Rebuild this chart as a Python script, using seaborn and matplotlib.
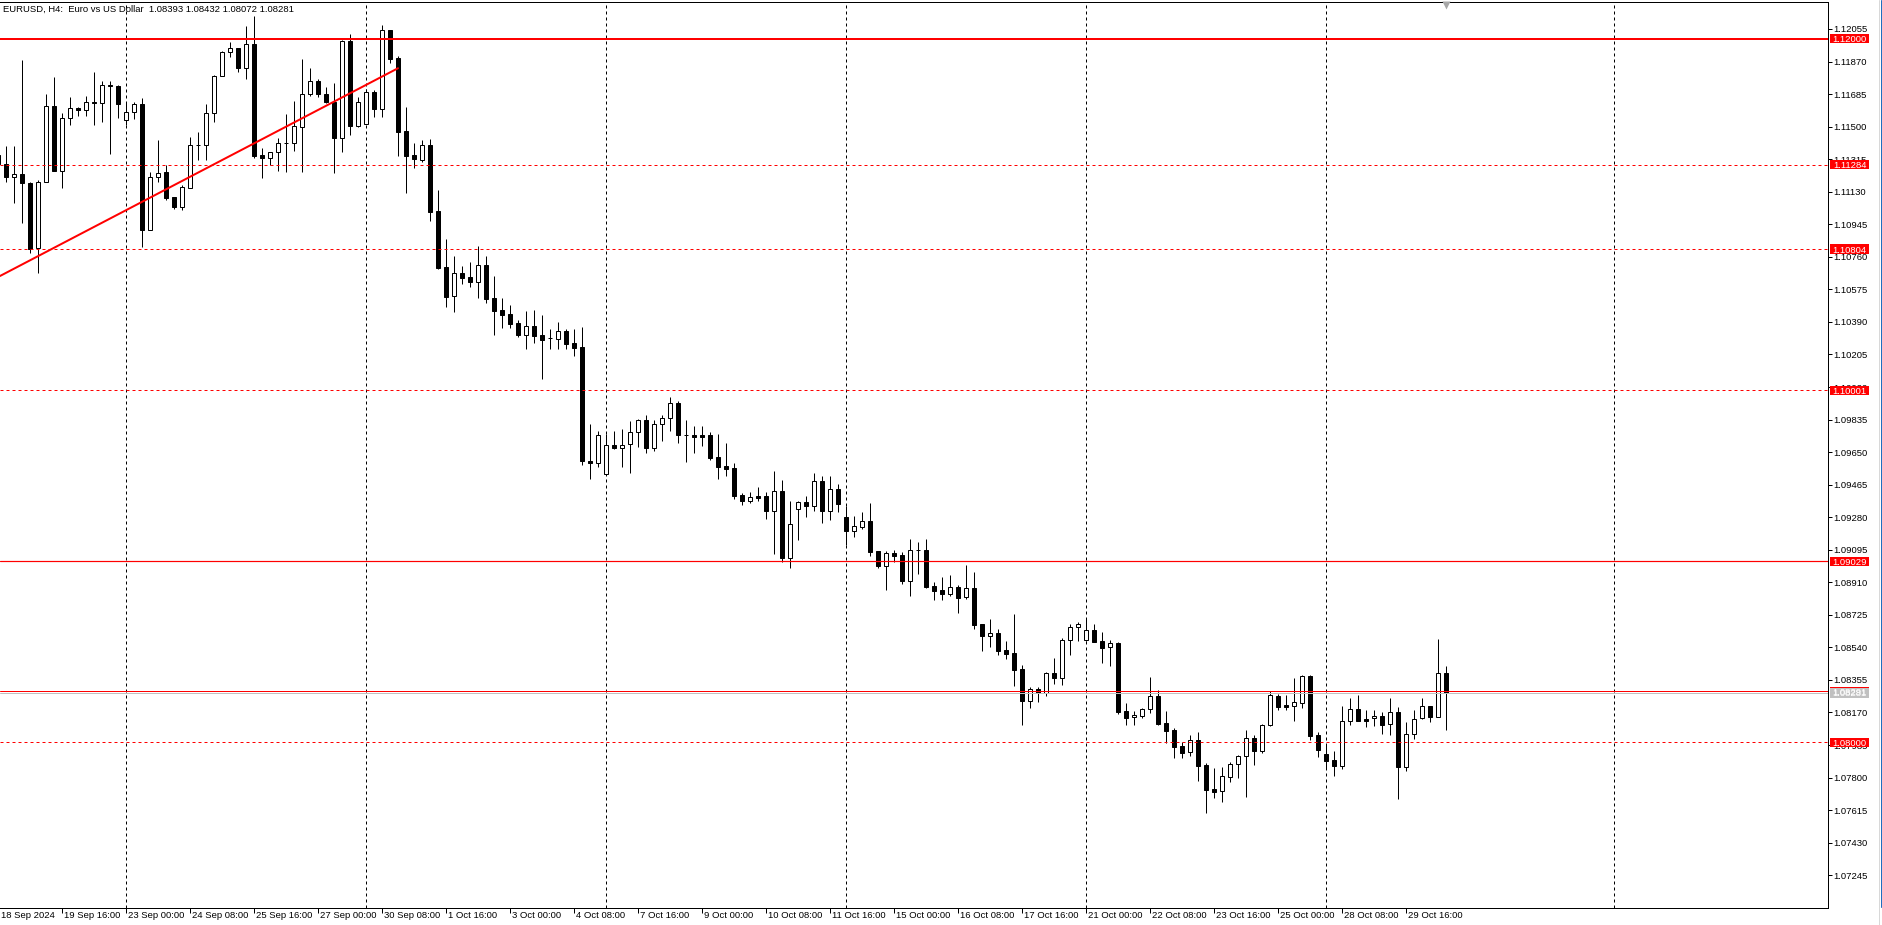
import numpy as np
import pandas as pd
import matplotlib
matplotlib.use("Agg")
import matplotlib.pyplot as plt
import matplotlib.transforms as mtransforms
from matplotlib.patches import Rectangle
import seaborn as sns

sns.set_theme(style="white")
plt.rcParams['font.family'] = ['Liberation Sans', 'DejaVu Sans']

# EURUSD H4 bars, 18 Sep 08:00 .. 30 Oct 12:00 (bar index -1 .. 180)
FIRST_BAR = -1
OPEN = [1.11340,
        1.11286, 1.11212, 1.11231, 1.11180, 1.10808, 1.11187, 1.11617, 1.11250, 1.11547, 1.11606,
        1.11593, 1.11640, 1.11632, 1.11735, 1.11731, 1.11536, 1.11581, 1.11627, 1.10914, 1.11212,
        1.11240, 1.11098, 1.11045, 1.11153, 1.11396, 1.11398, 1.11576, 1.11786, 1.11922, 1.11947,
        1.11835, 1.11968, 1.11339, 1.11320, 1.11354, 1.11405, 1.11405, 1.11500, 1.11684, 1.11761,
        1.11686, 1.11638, 1.11434, 1.11985, 1.11506, 1.11513, 1.11695, 1.11602, 1.12047, 1.11888,
        1.11473, 1.11339, 1.11312, 1.11396, 1.11020, 1.10702, 1.10535, 1.10666, 1.10645, 1.10619,
        1.10712, 1.10526, 1.10458, 1.10435, 1.10384, 1.10318, 1.10367, 1.10316, 1.10297, 1.10295,
        1.10338, 1.10270, 1.10246, 1.09598, 1.09586, 1.09524, 1.09689, 1.09675, 1.09694, 1.09762,
        1.09831, 1.09675, 1.09808, 1.09842, 1.09927, 1.09745, 1.09747, 1.09747, 1.09747, 1.09622,
        1.09571, 1.09560, 1.09406, 1.09374, 1.09400, 1.09400, 1.09317, 1.09427, 1.09050, 1.09328,
        1.09366, 1.09346, 1.09484, 1.09317, 1.09438, 1.09281, 1.09203, 1.09226, 1.09258, 1.09088,
        1.09004, 1.09076, 1.09065, 1.08919, 1.09094, 1.09094, 1.08889, 1.08866, 1.08842, 1.08881,
        1.08825, 1.08876, 1.08671, 1.08607, 1.08620, 1.08525, 1.08508, 1.08417, 1.08237, 1.08302,
        1.08279, 1.08394, 1.08368, 1.08580, 1.08654, 1.08584, 1.08637, 1.08575, 1.08540, 1.08565,
        1.08179, 1.08144, 1.08148, 1.08192, 1.08262, 1.08108, 1.08069, 1.07980, 1.07944, 1.08012,
        1.07872, 1.07733, 1.07722, 1.07801, 1.07875, 1.07921, 1.08023, 1.07953, 1.08097, 1.08262,
        1.08211, 1.08209, 1.08226, 1.08376, 1.08040, 1.07932, 1.07898, 1.07868, 1.08120, 1.08192,
        1.08131, 1.08137, 1.08148, 1.08103, 1.08171, 1.07862, 1.08046, 1.08139, 1.08205, 1.08146,
        1.08393]
HIGH = [1.11400,
        1.11390, 1.11390, 1.11879, 1.11185, 1.11197, 1.11686, 1.11780, 1.11576, 1.11667, 1.11614,
        1.11674, 1.11812, 1.11759, 1.11761, 1.11735, 1.11636, 1.11640, 1.11661, 1.11244, 1.11424,
        1.11282, 1.11102, 1.11168, 1.11443, 1.11470, 1.11629, 1.11793, 1.11932, 1.11981, 1.11949,
        1.12072, 1.12129, 1.11377, 1.11358, 1.11434, 1.11570, 1.11646, 1.11883, 1.11831, 1.11771,
        1.11723, 1.11746, 1.11992, 1.12025, 1.11670, 1.11712, 1.11708, 1.12080, 1.12049, 1.11901,
        1.11610, 1.11409, 1.11424, 1.11430, 1.11140, 1.10861, 1.10765, 1.10708, 1.10729, 1.10822,
        1.10765, 1.10651, 1.10526, 1.10486, 1.10401, 1.10452, 1.10458, 1.10429, 1.10350, 1.10390,
        1.10350, 1.10350, 1.10359, 1.09808, 1.09770, 1.09751, 1.09770, 1.09781, 1.09827, 1.09840,
        1.09861, 1.09831, 1.09861, 1.09961, 1.09942, 1.09832, 1.09798, 1.09798, 1.09764, 1.09753,
        1.09702, 1.09588, 1.09419, 1.09423, 1.09452, 1.09423, 1.09543, 1.09492, 1.09372, 1.09372,
        1.09400, 1.09531, 1.09512, 1.09514, 1.09469, 1.09344, 1.09287, 1.09309, 1.09361, 1.09088,
        1.09090, 1.09094, 1.09082, 1.09158, 1.09139, 1.09158, 1.08912, 1.08942, 1.08952, 1.08895,
        1.09008, 1.08969, 1.08671, 1.08700, 1.08645, 1.08575, 1.08730, 1.08438, 1.08317, 1.08317,
        1.08400, 1.08482, 1.08593, 1.08671, 1.08682, 1.08707, 1.08673, 1.08626, 1.08582, 1.08571,
        1.08224, 1.08177, 1.08197, 1.08372, 1.08298, 1.08179, 1.08080, 1.08004, 1.08040, 1.08057,
        1.07883, 1.07855, 1.07862, 1.07889, 1.07927, 1.08071, 1.08042, 1.08103, 1.08290, 1.08273,
        1.08268, 1.08366, 1.08383, 1.08381, 1.08057, 1.07989, 1.07951, 1.08205, 1.08250, 1.08269,
        1.08184, 1.08184, 1.08171, 1.08250, 1.08199, 1.08116, 1.08184, 1.08250, 1.08205, 1.08588,
        1.08432]
LOW = [1.11150,
       1.11187, 1.11068, 1.10954, 1.10780, 1.10670, 1.11187, 1.11250, 1.11153, 1.11509, 1.11560,
       1.11560, 1.11509, 1.11528, 1.11344, 1.11547, 1.11509, 1.11542, 1.10818, 1.10913, 1.11187,
       1.11083, 1.11032, 1.11026, 1.11153, 1.11310, 1.11310, 1.11528, 1.11786, 1.11894, 1.11812,
       1.11769, 1.11320, 1.11206, 1.11282, 1.11248, 1.11244, 1.11363, 1.11244, 1.11674, 1.11670,
       1.11636, 1.11235, 1.11358, 1.11451, 1.11496, 1.11513, 1.11553, 1.11553, 1.11860, 1.11335,
       1.11125, 1.11263, 1.11301, 1.10966, 1.10689, 1.10473, 1.10448, 1.10607, 1.10590, 1.10528,
       1.10499, 1.10316, 1.10355, 1.10355, 1.10306, 1.10236, 1.10272, 1.10067, 1.10236, 1.10236,
       1.10236, 1.10196, 1.09577, 1.09499, 1.09567, 1.09524, 1.09670, 1.09567, 1.09533, 1.09681,
       1.09647, 1.09658, 1.09715, 1.09772, 1.09704, 1.09596, 1.09645, 1.09685, 1.09607, 1.09499,
       1.09516, 1.09385, 1.09351, 1.09363, 1.09374, 1.09272, 1.09071, 1.09027, 1.08989, 1.09152,
       1.09283, 1.09313, 1.09249, 1.09264, 1.09309, 1.09124, 1.09169, 1.09211, 1.09060, 1.08993,
       1.08866, 1.09027, 1.08900, 1.08834, 1.08957, 1.08876, 1.08809, 1.08809, 1.08832, 1.08737,
       1.08813, 1.08646, 1.08521, 1.08544, 1.08499, 1.08476, 1.08323, 1.08101, 1.08197, 1.08232,
       1.08266, 1.08332, 1.08328, 1.08497, 1.08576, 1.08578, 1.08573, 1.08453, 1.08436, 1.08160,
       1.08099, 1.08099, 1.08139, 1.08169, 1.08101, 1.07999, 1.07913, 1.07913, 1.07925, 1.07783,
       1.07601, 1.07686, 1.07663, 1.07777, 1.07799, 1.07692, 1.07873, 1.07942, 1.08095, 1.08186,
       1.08186, 1.08124, 1.08197, 1.08016, 1.07919, 1.07855, 1.07811, 1.07851, 1.08101, 1.08124,
       1.08089, 1.08093, 1.08050, 1.08042, 1.07676, 1.07839, 1.08019, 1.08135, 1.08116, 1.08146,
       1.08072]
CLOSE = [1.11286,
         1.11212, 1.11231, 1.11178, 1.10804, 1.11187, 1.11617, 1.11250, 1.11549, 1.11604, 1.11593,
         1.11638, 1.11632, 1.11735, 1.11731, 1.11631, 1.11581, 1.11627, 1.10914, 1.11212, 1.11238,
         1.11096, 1.11045, 1.11155, 1.11394, 1.11396, 1.11576, 1.11786, 1.11924, 1.11945, 1.11835,
         1.11968, 1.11335, 1.11320, 1.11354, 1.11405, 1.11405, 1.11502, 1.11684, 1.11758, 1.11684,
         1.11638, 1.11434, 1.11985, 1.11506, 1.11638, 1.11695, 1.11602, 1.12047, 1.11886, 1.11471,
         1.11335, 1.11314, 1.11396, 1.11017, 1.10698, 1.10534, 1.10666, 1.10642, 1.10619, 1.10712,
         1.10522, 1.10454, 1.10431, 1.10380, 1.10316, 1.10367, 1.10312, 1.10289, 1.10297, 1.10338,
         1.10264, 1.10244, 1.09601, 1.09586, 1.09749, 1.09689, 1.09675, 1.09689, 1.09762, 1.09831,
         1.09675, 1.09808, 1.09842, 1.09927, 1.09749, 1.09745, 1.09738, 1.09738, 1.09618, 1.09567,
         1.09556, 1.09402, 1.09374, 1.09393, 1.09389, 1.09317, 1.09427, 1.09050, 1.09240, 1.09366,
         1.09346, 1.09484, 1.09317, 1.09438, 1.09357, 1.09203, 1.09228, 1.09258, 1.09084, 1.09004,
         1.09075, 1.09061, 1.08919, 1.09094, 1.09094, 1.08881, 1.08862, 1.08842, 1.08881, 1.08823,
         1.08876, 1.08669, 1.08607, 1.08622, 1.08521, 1.08504, 1.08413, 1.08237, 1.08302, 1.08279,
         1.08394, 1.08368, 1.08580, 1.08656, 1.08671, 1.08637, 1.08573, 1.08538, 1.08563, 1.08175,
         1.08141, 1.08154, 1.08192, 1.08262, 1.08107, 1.08067, 1.07976, 1.07942, 1.08012, 1.07868,
         1.07731, 1.07720, 1.07807, 1.07875, 1.07921, 1.08023, 1.07953, 1.08097, 1.08268, 1.08203,
         1.08201, 1.08228, 1.08376, 1.08038, 1.07959, 1.07896, 1.07868, 1.08120, 1.08192, 1.08124,
         1.08124, 1.08148, 1.08101, 1.08171, 1.07862, 1.08046, 1.08135, 1.08205, 1.08146, 1.08393,
         1.08281]

TITLE = "EURUSD, H4:  Euro vs US Dollar  1.08393 1.08432 1.08072 1.08281"

# price scale labels on the right
TICK_PRICES = [1.12055, 1.11870, 1.11685, 1.11500, 1.11315, 1.11130, 1.10945, 1.10760,
               1.10575, 1.10390, 1.10205, 1.10020, 1.09835, 1.09650, 1.09465, 1.09280,
               1.09095, 1.08910, 1.08725, 1.08540, 1.08355, 1.08170, 1.07985, 1.07800,
               1.07615, 1.07430, 1.07245]

# time scale labels (bar index of each label)
DATE_BARS = [7, 15, 23, 31, 39, 47, 55, 63, 71, 79, 87, 95, 103, 111, 119, 127,
             135, 143, 151, 159, 167, 175]
DATE_LABELS = ["19 Sep 16:00", "23 Sep 00:00", "24 Sep 08:00", "25 Sep 16:00",
               "27 Sep 00:00", "30 Sep 08:00", "1 Oct 16:00", "3 Oct 00:00",
               "4 Oct 08:00", "7 Oct 16:00", "9 Oct 00:00", "10 Oct 08:00",
               "11 Oct 16:00", "15 Oct 00:00", "16 Oct 08:00", "17 Oct 16:00",
               "21 Oct 00:00", "22 Oct 08:00", "23 Oct 16:00", "25 Oct 00:00",
               "28 Oct 08:00", "29 Oct 16:00"]
FIRST_LABEL = "18 Sep 2024"
GRID_BARS = [15, 45, 75, 105, 135, 165, 201]

# horizontal levels
THICK_LEVELS = [1.12000]
DASHED_LEVELS = [1.11284, 1.10804, 1.10001, 1.08000]
THIN_LEVELS = [1.09029]
BID = 1.08281
ASK = 1.08291

# trend line (bar index, price)
TREND_BARS = [-0.75, 49.0]
TREND_PRICES = [1.10651, 1.11832]

# --- layout in pixels ---
W, H = 1883, 925
AX_W, AX_H = 1828, 906
PX = 1 / AX_W
XMIN, XMAX = -0.75, 227.75
YMIN, YMAX = 1.070587, 1.122084
YPX = (YMAX - YMIN) / AX_H
LW = 0.72  # one pixel in points
FS = 6.8

df = pd.DataFrame({"bar": np.arange(FIRST_BAR, FIRST_BAR + len(OPEN)),
                   "open": OPEN, "high": HIGH, "low": LOW, "close": CLOSE})
df["bottom"] = df[["open", "close"]].min(axis=1)
df["height"] = (df["close"] - df["open"]).abs()
df["fill"] = np.where(df["close"] > df["open"], "white", "black")

fig = plt.figure(figsize=(W / 100, H / 100), dpi=100, facecolor="white")
ax = fig.add_axes([0, 17 / H, AX_W / W, AX_H / H])
ax.set_facecolor("white")
ax.set_xlim(XMIN, XMAX)
ax.set_ylim(YMIN, YMAX)

# grid
for b in GRID_BARS:
    ax.axvline(b, color="black", lw=LW, ls=(0, (3, 3)), zorder=1)

# candles
ax.vlines(df["bar"], df["low"], df["high"], color="black", lw=LW, zorder=2)
ax.bar(df["bar"], df["height"], bottom=df["bottom"], width=0.5,
       color=df["fill"], edgecolor="black", linewidth=LW, zorder=3)

# objects
for p in THICK_LEVELS:
    ax.axhline(p, color="#FF0000", lw=2 * LW, zorder=4)
for p in DASHED_LEVELS:
    ax.axhline(p, color="#FF0000", lw=LW, ls=(0, (3, 3)), zorder=4)
for p in THIN_LEVELS:
    ax.axhline(p, color="#FF0000", lw=LW * 1.2, zorder=4)
ax.axhline(BID, color="#C0C0C0", lw=LW, zorder=4)
ax.axhline(ASK, color="#FF0000", lw=LW, zorder=4)
sns.lineplot(x=TREND_BARS, y=TREND_PRICES, ax=ax, color="#FF0000", lw=2 * LW, zorder=4)

# axes frame
for side in ["top", "right", "bottom"]:
    ax.spines[side].set_visible(True)
    ax.spines[side].set_color("black")
    ax.spines[side].set_linewidth(LW)
ax.spines["left"].set_visible(False)

ax.yaxis.tick_right()
ax.set_yticks(TICK_PRICES)
ax.set_yticklabels([f"{v:.5f}" for v in TICK_PRICES])
ax.tick_params(axis="y", which="both", right=True, left=False, direction="out",
               length=4 * LW, width=LW, pad=LW, labelsize=FS, colors="black")
ax.set_xticks(DATE_BARS)
ax.set_xticklabels([])
ax.tick_params(axis="x", bottom=True, direction="out", length=5 * LW, width=LW,
               colors="black")

tx = mtransforms.blended_transform_factory(ax.transData, ax.transAxes)
ty = mtransforms.blended_transform_factory(ax.transAxes, ax.transData)
ax.text(XMIN + 0.1, -3 / AX_H, FIRST_LABEL, transform=tx, ha="left", va="top",
        fontsize=FS, color="black", clip_on=False)
for b, lab in zip(DATE_BARS, DATE_LABELS):
    ax.text(b + 0.3, -3 / AX_H, lab, transform=tx, ha="left", va="top",
            fontsize=FS, color="black", clip_on=False)

# price labels of levels
def level_label(price, fc):
    ax.add_patch(Rectangle((1830 * PX, price - 4.65 * YPX), 39.5 * PX, 9.3 * YPX,
                           transform=ty, fc=fc, ec="none", clip_on=False, zorder=6))
    ax.text(1849.8 * PX, price, f"{price:.5f}", transform=ty, ha="center",
            va="center_baseline", fontsize=FS, color="white", clip_on=False, zorder=7)

for p in THICK_LEVELS + DASHED_LEVELS + THIN_LEVELS:
    level_label(p, "#FF0000")
level_label(ASK, "#FF0000")
level_label(BID, "#C0C0C0")

# title and shift marker
ax.text(3 * PX, 1 - 7.7 / AX_H, TITLE, transform=ax.transAxes, ha="left",
        va="center", fontsize=FS, color="black")
ax.plot([df["bar"].iloc[-1]], [1 - 3 / AX_H], marker="v", ms=6, color="#A8A8A8",
        mec="none", transform=tx, clip_on=False, zorder=8)

# window edge
fig.add_artist(plt.Line2D([1879.5 / W, 1879.5 / W], [0, 1], color="#D8D8D8", lw=LW))
fig.add_artist(plt.Line2D([1881.5 / W, 1881.5 / W], [0.02, 1], color="#1F6FC0", lw=LW))

fig.savefig("out.png", dpi=100, facecolor="white")
